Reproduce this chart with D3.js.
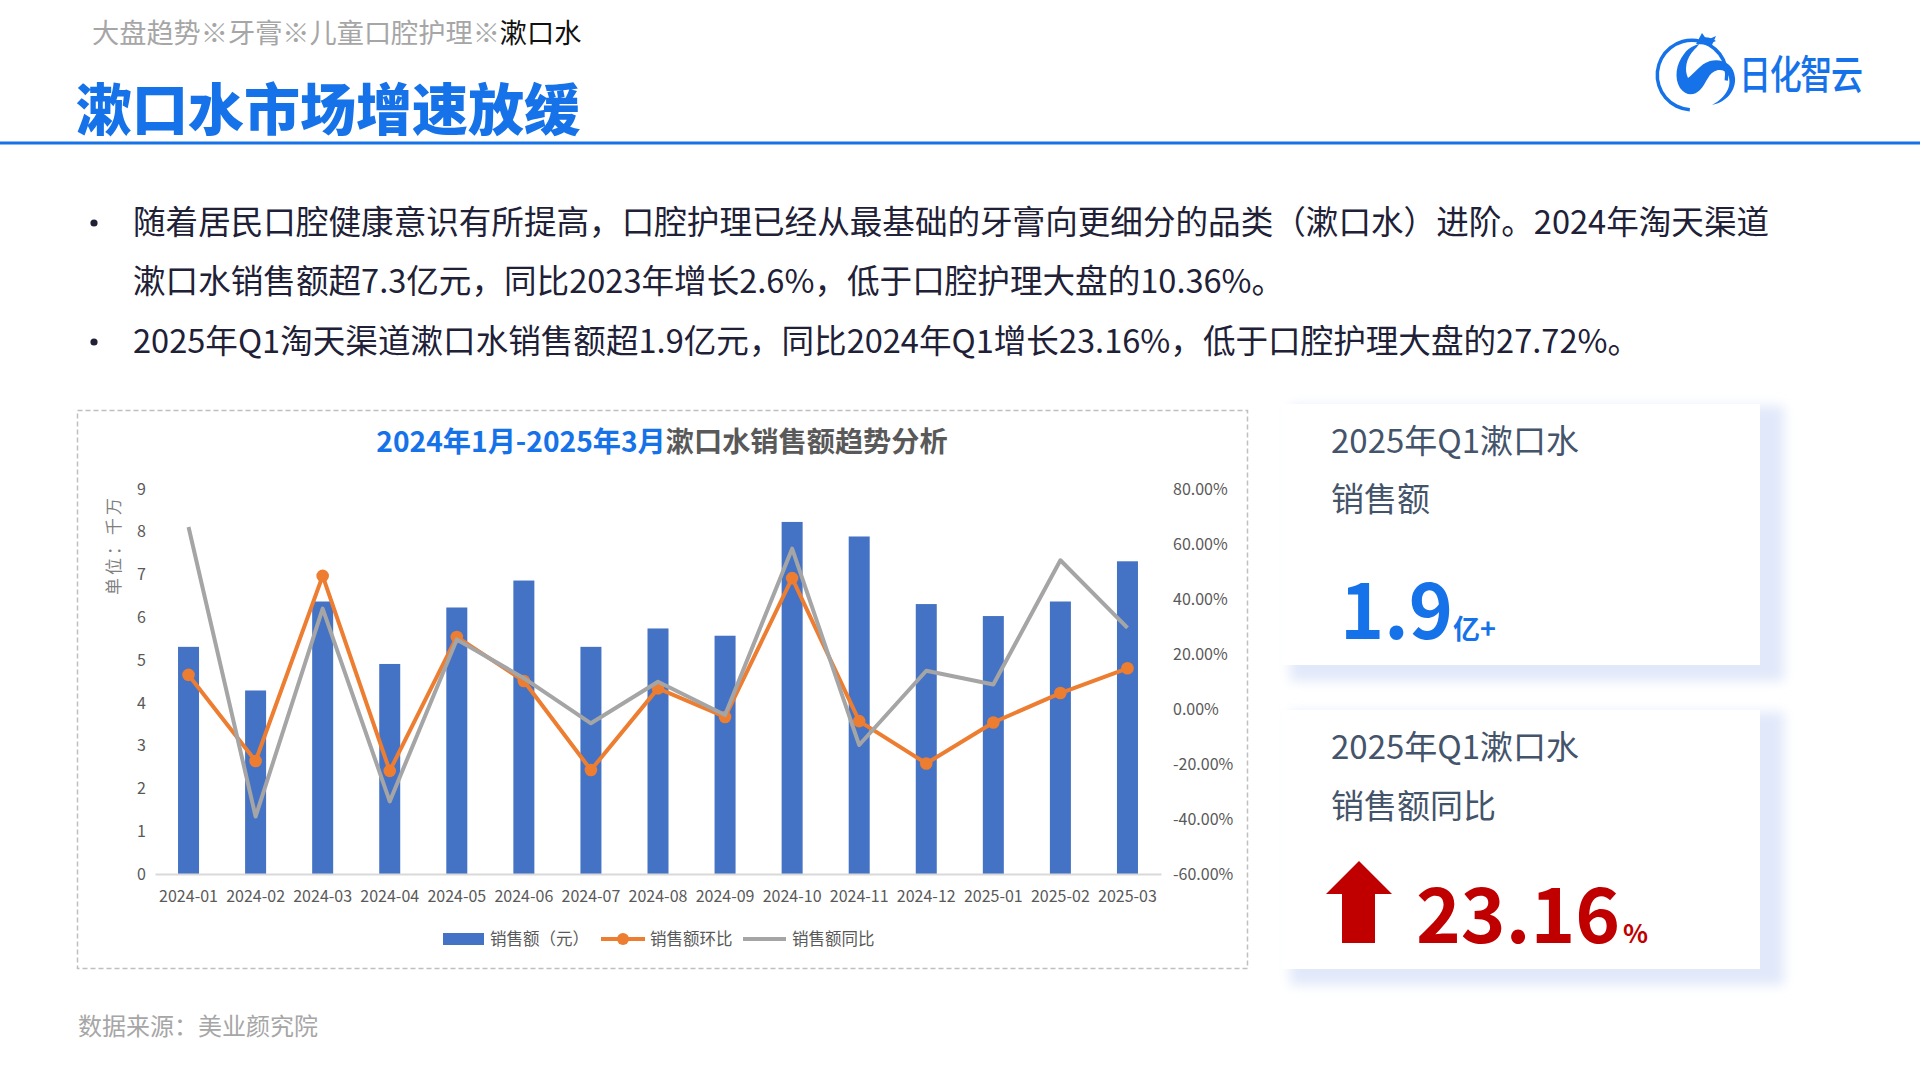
<!DOCTYPE html>
<html><head><meta charset="utf-8">
<script src="https://cdn.jsdelivr.net/npm/d3@7"></script>
<style>
html,body{margin:0;padding:0;background:#fff;}
svg{display:block;font-family:"Noto Sans CJK SC","Noto Sans",sans-serif;}
</style></head><body>
<svg id="c" width="1920" height="1080"></svg>
<script>
// ---------------- data ----------------
const months = ["2024-01","2024-02","2024-03","2024-04","2024-05","2024-06","2024-07","2024-08","2024-09","2024-10","2024-11","2024-12","2025-01","2025-02","2025-03"];
const sales = [5.31,4.29,6.37,4.91,6.23,6.86,5.31,5.74,5.57,8.23,7.89,6.31,6.03,6.37,7.31];   // 千万
const mom = [12.4,-18.9,48.4,-22.5,26.2,10.2,-22.2,7.5,-2.9,47.6,-4.4,-19.8,-4.9,5.8,14.8];   // 环比 %
const yoy = [66.2,-39.1,36.5,-33.6,25.3,11.2,-5.2,9.9,-2.2,58.3,-13.1,13.9,8.9,54.1,29.5];   // 同比 %
const leftTicks = [0,1,2,3,4,5,6,7,8,9];
const rightTicks = [-60,-40,-20,0,20,40,60,80];
const legendLabels = ["销售额（元）","销售额环比","销售额同比"];
const breadcrumb = ["大盘趋势※牙膏※儿童口腔护理※","漱口水"];
const pageTitle = "漱口水市场增速放缓";
const bullets = [
  ["随着居民口腔健康意识有所提高，口腔护理已经从最基础的牙膏向更细分的品类（漱口水）进阶。2024年淘天渠道","漱口水销售额超7.3亿元，同比2023年增长2.6%，低于口腔护理大盘的10.36%。"],
  ["2025年Q1淘天渠道漱口水销售额超1.9亿元，同比2024年Q1增长23.16%，低于口腔护理大盘的27.72%。"]
];
const chartTitle = ["2024年1月-2025年3月","漱口水销售额趋势分析"];
const card1 = {l1:"2025年Q1漱口水", l2:"销售额", big:"1.9", unit:"亿+"};
const card2 = {l1:"2025年Q1漱口水", l2:"销售额同比", big:"23.16", unit:"%"};
const source = "数据来源：美业颜究院";

// ---------------- drawing ----------------
const svg = d3.select("#c");
const BLUE = "#1572e8", BAR = "#4472C4", ORANGE = "#ED7D31", GREY = "#A5A5A5", AX = "#595959";

const defs = svg.append("defs");
defs.append("filter").attr("id","blur").attr("x","-20%").attr("y","-20%").attr("width","140%").attr("height","140%")
  .append("feGaussianBlur").attr("stdDeviation",6);

// header
const bc = svg.append("text").attr("x",92).attr("y",43).attr("font-size",27.2);
bc.append("tspan").attr("fill","#a6a6a6").text(breadcrumb[0]);
bc.append("tspan").attr("fill","#111").text(breadcrumb[1]);
svg.append("text").attr("x",76).attr("y",130).attr("font-size",56).attr("font-weight",900)
  .attr("fill",BLUE).text(pageTitle);
svg.append("rect").attr("x",0).attr("y",141.5).attr("width",1920).attr("height",3).attr("fill",BLUE);

// logo
const lg = svg.append("g");
const arcGen = d3.arc();
lg.append("path").attr("transform","translate(1692,75)").attr("fill",BLUE)
  .attr("d", arcGen({innerRadius:33,outerRadius:36.5,startAngle:Math.PI*1.02,endAngle:Math.PI*2.55}));
lg.append("path").attr("fill",BLUE)
  .attr("d","M1700,38 C1706,36 1712,38 1716,41 L1711,43 C1700,42 1690,46 1684,54 C1676,64 1674,78 1680,88 C1686,96 1694,96 1700,90 C1707,83 1708,72 1718,70 C1727,69 1731,77 1729,86 C1727,94 1720,101 1712,105 C1727,102 1736,90 1735,78 C1734,64 1722,58 1710,61 C1700,64 1694,74 1688,78 C1684,70 1686,58 1694,50 C1698,46 1701,43 1700,38 Z");
lg.append("path").attr("fill",BLUE)
  .attr("d","M1696,44 L1702,33 L1707,40 L1716,36 L1712,45 Z");
lg.append("text").attr("x",1739).attr("y",89).attr("font-size",40).attr("font-weight",500)
  .attr("fill",BLUE).attr("transform","translate(1739,0) scale(0.8,1) translate(-1739,0)")
  .attr("textLength",155).text("日化智云");

// bullets
const lineYs = [[234,293],[353]];
bullets.forEach((b,i)=>{
  svg.append("circle").attr("cx",94).attr("cy",lineYs[i][0]-11).attr("r",3.6).attr("fill","#202036");
  b.forEach((t,j)=>{
    svg.append("text").attr("x",133).attr("y",lineYs[i][j]).attr("font-size",32.6)
      .attr("fill","#202036").text(t);
  });
});

// chart frame
svg.append("rect").attr("x",77.5).attr("y",410.5).attr("width",1170).attr("height",558)
  .attr("fill","none").attr("stroke","#bfbfbf").attr("stroke-width",1.5).attr("stroke-dasharray","5,3");

const ct = svg.append("text").attr("x",662).attr("y",452).attr("text-anchor","middle")
  .attr("font-size",28.2).attr("font-weight",700);
ct.append("tspan").attr("fill",BLUE).text(chartTitle[0]);
ct.append("tspan").attr("fill","#595959").text(chartTitle[1]);

// scales
const xc = d3.scaleBand().domain(months).range([155,1161]);
const yL = d3.scaleLinear().domain([0,9]).range([874,489]);
const yR = d3.scaleLinear().domain([-60,80]).range([874,489]);

// bars
svg.append("g").selectAll("rect").data(months).join("rect")
  .attr("x", d=>xc(d)+xc.bandwidth()/2-10.5).attr("width",21)
  .attr("y",(d,i)=>yL(sales[i])).attr("height",(d,i)=>yL(0)-yL(sales[i]))
  .attr("fill",BAR);

// axes
const gx = svg.append("g").attr("transform","translate(0,874)")
  .call(d3.axisBottom(xc).tickSize(0).tickPadding(17));
gx.select(".domain").attr("stroke","#d9d9d9").attr("stroke-width",2);
gx.selectAll("text").attr("font-size",16).attr("fill",AX).attr("font-family","'Noto Sans CJK SC',sans-serif");

const gl = svg.append("g").attr("transform","translate(146,0)")
  .call(d3.axisLeft(yL).tickValues(leftTicks).tickSize(0).tickPadding(0).tickFormat(d3.format("d")));
gl.select(".domain").remove();
gl.selectAll("text").attr("font-size",16).attr("fill",AX).attr("font-family","'Noto Sans CJK SC',sans-serif");

const gr = svg.append("g").attr("transform","translate(1173,0)")
  .call(d3.axisRight(yR).tickValues(rightTicks).tickSize(0).tickPadding(0).tickFormat(d=>d.toFixed(2)+"%"));
gr.select(".domain").remove();
gr.selectAll("text").attr("font-size",16).attr("fill",AX).attr("font-family","'Noto Sans CJK SC',sans-serif");

svg.append("text").attr("transform","translate(120,545) rotate(-90)").attr("text-anchor","middle")
  .attr("font-size",17).attr("letter-spacing",3).attr("fill","#7f7f7f").text("单位：千万");

// lines
const cx = d=>xc(d)+xc.bandwidth()/2;
const lineGen = d3.line().x((d,i)=>cx(months[i])).y(d=>yR(d));
svg.append("path").datum(mom).attr("d",lineGen).attr("fill","none").attr("stroke",ORANGE)
  .attr("stroke-width",4).attr("stroke-linejoin","round");
svg.append("g").selectAll("circle").data(mom).join("circle")
  .attr("cx",(d,i)=>cx(months[i])).attr("cy",d=>yR(d)).attr("r",6.3).attr("fill",ORANGE);
svg.append("path").datum(yoy).attr("d",lineGen).attr("fill","none").attr("stroke",GREY)
  .attr("stroke-width",4).attr("stroke-linejoin","round");

// legend
const lgY = 939;
svg.append("rect").attr("x",443).attr("y",lgY-6).attr("width",41).attr("height",12).attr("fill",BAR);
svg.append("text").attr("x",490).attr("y",lgY+6).attr("font-size",16.5).attr("fill",AX).text(legendLabels[0]);
svg.append("line").attr("x1",601).attr("x2",645).attr("y1",lgY).attr("y2",lgY).attr("stroke",ORANGE).attr("stroke-width",4);
svg.append("circle").attr("cx",623).attr("cy",lgY).attr("r",6).attr("fill",ORANGE);
svg.append("text").attr("x",650).attr("y",lgY+6).attr("font-size",16.5).attr("fill",AX).text(legendLabels[1]);
svg.append("line").attr("x1",743).attr("x2",786).attr("y1",lgY).attr("y2",lgY).attr("stroke",GREY).attr("stroke-width",4);
svg.append("text").attr("x",792).attr("y",lgY+6).attr("font-size",16.5).attr("fill",AX).text(legendLabels[2]);

// cards
function card(y,h){
  svg.append("rect").attr("x",1290).attr("y",y+2).attr("width",494).attr("height",h+14)
    .attr("fill","#e1e8f9").attr("filter","url(#blur)");
  svg.append("rect").attr("x",1282).attr("y",y).attr("width",478).attr("height",h).attr("fill","#fff");
}
card(404,261);
card(710,259);
const CARD_TXT = "#44546a";
svg.append("text").attr("x",1331).attr("y",453).attr("font-size",33).attr("fill",CARD_TXT).text(card1.l1);
svg.append("text").attr("x",1331).attr("y",511).attr("font-size",33).attr("fill",CARD_TXT).text(card1.l2);
const b1 = svg.append("text").attr("x",1340).attr("y",639).attr("font-weight",700).attr("fill",BLUE);
b1.append("tspan").attr("font-size",75).text(card1.big);
b1.append("tspan").attr("font-size",27).attr("dx",0).text(card1.unit);

svg.append("text").attr("x",1331).attr("y",759).attr("font-size",33).attr("fill",CARD_TXT).text(card2.l1);
svg.append("text").attr("x",1331).attr("y",818).attr("font-size",33).attr("fill",CARD_TXT).text(card2.l2);
svg.append("path").attr("fill","#c00000")
  .attr("d","M1359,861 L1392,894 L1375,894 L1375,943 L1342,943 L1342,894 L1326,894 Z");
const b2 = svg.append("text").attr("x",1416).attr("y",943).attr("font-weight",700).attr("fill","#c00000");
b2.append("tspan").attr("font-size",76).text(card2.big);
b2.append("tspan").attr("font-size",26).attr("dx",3).text(card2.unit);

// source
svg.append("text").attr("x",78).attr("y",1035).attr("font-size",24).attr("fill","#a6a6a6").text(source);
</script>
</body></html>
